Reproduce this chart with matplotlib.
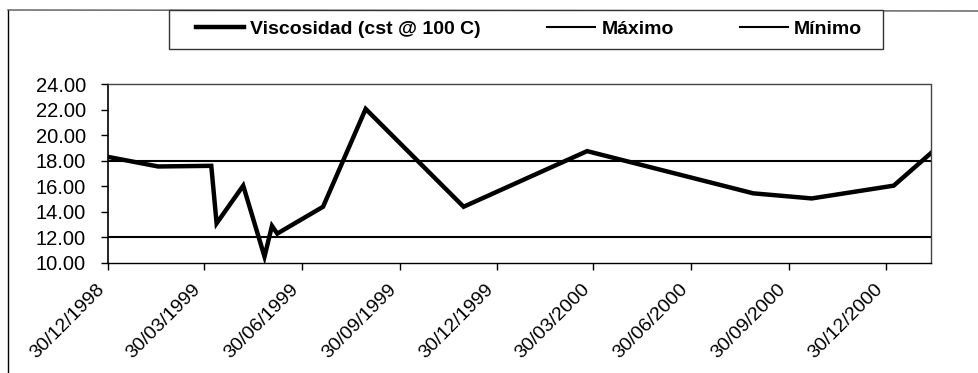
import numpy as np
import pandas as pd
import matplotlib
matplotlib.use('Agg')
import matplotlib.pyplot as plt
import matplotlib.transforms as mtransforms
from matplotlib.patches import Rectangle
from matplotlib.lines import Line2D
from matplotlib.ticker import FormatStrFormatter

# Datos
fechas = ['30/12/1998', '15/02/1999', '06/04/1999', '11/04/1999', '06/05/1999',
          '26/05/1999', '02/06/1999', '07/06/1999', '20/07/1999', '29/08/1999',
          '29/11/1999', '24/03/2000', '27/08/2000', '21/10/2000', '06/01/2001',
          '10/02/2001']
viscosidad = [18.30, 17.55, 17.60, 13.10, 16.05, 10.50, 12.90, 12.30, 14.40, 22.05,
              14.40, 18.75, 15.45, 15.05, 16.05, 18.60]
maximo = 18.00
minimo = 12.00

etiquetas_x = ['30/12/1998', '30/03/1999', '30/06/1999', '30/09/1999', '30/12/1999',
               '30/03/2000', '30/06/2000', '30/09/2000', '30/12/2000']
ticks_y = [10, 12, 14, 16, 18, 20, 22, 24]

plt.rcParams['font.family'] = ['Liberation Sans', 'DejaVu Sans']

W, H = 979, 373
fig = plt.figure(figsize=(W / 100, H / 100), dpi=100)
fig.patch.set_facecolor('white')

ax = fig.add_axes([108 / W, 1 - 263 / H, (931 - 108) / W, (263 - 84) / H])

x = pd.to_datetime(fechas, dayfirst=True)
xt = pd.to_datetime(etiquetas_x, dayfirst=True)

l_max, = ax.plot([x[0], x[-1]], [maximo, maximo], color='black', lw=1.5)
l_min, = ax.plot([x[0], x[-1]], [minimo, minimo], color='black', lw=1.5)
l_vis, = ax.plot(x, viscosidad, color='black', lw=3.2, solid_joinstyle='miter')

ax.set_xlim(x[0], x[-1])
ax.set_ylim(10, 24)
ax.set_yticks(ticks_y)
ax.yaxis.set_major_formatter(FormatStrFormatter('%.2f'))
ax.set_xticks(xt)
ax.set_xticklabels(etiquetas_x, rotation=45, ha='right', va='center',
                   rotation_mode='anchor', fontsize=14)
ax.tick_params(axis='y', direction='out', length=5, width=1, pad=11, labelsize=14.5)
ax.tick_params(axis='x', direction='out', length=5, width=1, pad=12)

# las etiquetas de fecha quedan un poco a la izquierda de la marca
desplaza = mtransforms.ScaledTranslation(-6 / 100, 0, fig.dpi_scale_trans)
for lab in ax.get_xticklabels():
    lab.set_transform(lab.get_transform() + desplaza)

for s in ['top', 'right']:
    ax.spines[s].set_linestyle((0, (2, 1)))
    ax.spines[s].set_color('#444444')
    ax.spines[s].set_linewidth(1.0)
ax.spines['left'].set_linestyle((0, (2, 1)))
ax.spines['left'].set_color('black')
ax.spines['left'].set_linewidth(1.2)
ax.spines['bottom'].set_color('black')
ax.spines['bottom'].set_linewidth(1.0)

# borde del area del grafico
fig.add_artist(Line2D([8 / W, 8 / W], [0, 1 - 10 / H], color='black', lw=1.0,
                      transform=fig.transFigure))
fig.add_artist(Line2D([8 / W, 1], [1 - 10 / H, 1 - 11 / H], color='#555555', lw=1.0,
                      transform=fig.transFigure))

# leyenda
fig.add_artist(Rectangle((169 / W, 1 - 49 / H), (883 - 169) / W, 39 / H,
                         transform=fig.transFigure, facecolor='white',
                         edgecolor='#333333', lw=1.0, zorder=5))
leg = fig.legend([l_vis, l_max, l_min], ['Viscosidad (cst @ 100 C)', 'Máximo', 'Mínimo'],
                 loc='center', bbox_to_anchor=(529 / W, 1 - 29 / H), ncol=3,
                 frameon=False, handlelength=2.5, handletextpad=0.3,
                 columnspacing=3.4, prop={'weight': 'bold', 'size': 14})
leg.set_zorder(6)

fig.savefig('out.png', dpi=100, facecolor='white')
